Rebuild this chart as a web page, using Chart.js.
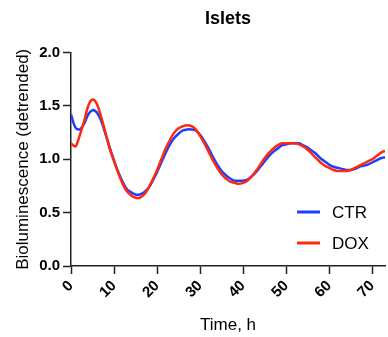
<!DOCTYPE html>
<html>
<head>
<meta charset="utf-8">
<script src="https://cdn.jsdelivr.net/npm/chart.js@4.4.1/dist/chart.umd.min.js"></script>
<style>
  html, body { margin: 0; padding: 0; background: #fff; }
  #wrap { width: 388px; height: 337px; position: relative; }
</style>
</head>
<body>
<div id="wrap"><canvas id="c" width="388" height="337"></canvas></div>
<script>
const chartTitle = "Islets";
const xTitle = "Time, h";
const yTitle = "Bioluminescence (detrended)";
const seriesNames = ["CTR", "DOX"];

const timeHours = [0,1,2,3,4,5,6,7,8,9,10,11,12,13,14,15,16,17,18,19,20,21,22,23,24,25,26,27,28,29,30,31,32,33,34,35,36,37,38,39,40,41,42,43,44,45,46,47,48,49,50,51,52,53,54,55,56,57,58,59,60,61,62,63,64,65,66,67,68,69,70,71,72,73];

const ctrValues = [1.42,1.30,1.28,1.33,1.42,1.46,1.44,1.36,1.24,1.11,0.99,0.88,0.79,0.72,0.69,0.67,0.67,0.69,0.73,0.80,0.88,0.97,1.06,1.14,1.20,1.24,1.27,1.28,1.28,1.27,1.23,1.17,1.10,1.02,0.95,0.89,0.85,0.82,0.80,0.80,0.80,0.81,0.84,0.88,0.93,0.98,1.03,1.07,1.10,1.13,1.14,1.15,1.15,1.15,1.13,1.11,1.08,1.05,1.01,0.98,0.95,0.93,0.92,0.91,0.90,0.90,0.91,0.93,0.94,0.95,0.97,0.99,1.01,1.02];

const doxValues = [1.15,1.12,1.22,1.35,1.50,1.56,1.52,1.40,1.25,1.10,0.98,0.87,0.77,0.70,0.66,0.64,0.64,0.67,0.73,0.81,0.90,1.00,1.10,1.18,1.25,1.29,1.31,1.32,1.31,1.28,1.22,1.15,1.07,0.99,0.92,0.86,0.82,0.79,0.78,0.77,0.78,0.80,0.84,0.89,0.95,1.01,1.06,1.10,1.13,1.15,1.15,1.15,1.15,1.14,1.12,1.09,1.05,1.01,0.97,0.94,0.92,0.90,0.89,0.89,0.89,0.90,0.92,0.94,0.96,0.98,1.00,1.03,1.06,1.08];

const xTickValues = [0,10,20,30,40,50,60,70];
const yTickValues = [0, 0.5, 1.0, 1.5, 2.0];
const yTickLabels = ["0.0","0.5","1.0","1.5","2.0"];

const FONT = "'Liberation Sans', Arial, Helvetica, sans-serif";
const AXIS = "#222222";

const insideLegend = {
  id: 'insideLegend',
  afterDatasetsDraw(chart) {
    const {ctx, chartArea} = chart;
    const ds = chart.data.datasets;
    ctx.save();
    ctx.font = "17px " + FONT;
    ctx.textBaseline = 'middle';
    ctx.textAlign = 'left';
    ds.forEach((d, i) => {
      const y = chartArea.bottom - 54 + i * 31;
      const x0 = chartArea.right - 88;
      ctx.strokeStyle = d.borderColor;
      ctx.lineWidth = 3;
      ctx.beginPath();
      ctx.moveTo(x0, y);
      ctx.lineTo(x0 + 23, y);
      ctx.stroke();
      ctx.fillStyle = '#000';
      ctx.fillText(d.label, x0 + 35, y + 1);
    });
    ctx.restore();
  }
};

new Chart(document.getElementById('c'), {
  type: 'line',
  data: {
    labels: timeHours,
    datasets: [
      { label: seriesNames[0], data: timeHours.map((t, i) => ({x: t, y: ctrValues[i]})),
        borderColor: '#1f3fff', borderWidth: 2.5, pointRadius: 0, tension: 0.35, fill: false, order: 1 },
      { label: seriesNames[1], data: timeHours.map((t, i) => ({x: t, y: doxValues[i]})),
        borderColor: '#ff2a0c', borderWidth: 2.5, pointRadius: 0, tension: 0.35, fill: false, order: 0 }
    ]
  },
  options: {
    responsive: false,
    animation: false,
    devicePixelRatio: 1,
    layout: { padding: { left: 0, right: 0, top: 0, bottom: 0 } },
    plugins: {
      legend: { display: false },
      tooltip: { enabled: false },
      title: {
        display: true, text: chartTitle, fullSize: false,
        color: '#000',
        font: { family: FONT, size: 18, weight: 'bold' },
        padding: { top: 8, bottom: 23 }
      }
    },
    scales: {
      x: {
        type: 'linear', min: 0, max: 73,
        afterFit(s) { s.height = 71; },
        afterBuildTicks(s) { s.ticks = xTickValues.map(v => ({value: v})); },
        border: { display: true, color: AXIS, width: 1.5 },
        grid: { display: true, drawOnChartArea: false, drawTicks: true, tickLength: 8, tickColor: AXIS, tickWidth: 1.5 },
        ticks: {
          autoSkip: false, minRotation: 45, maxRotation: 45, padding: 3,
          color: '#000', font: { family: FONT, size: 15, weight: 'bold' },
          callback: (v) => String(v)
        },
        title: { display: true, text: xTitle, color: '#000',
          font: { family: FONT, size: 17 }, padding: { top: 0, bottom: 1 } }
      },
      y: {
        type: 'linear', min: 0, max: 2,
        afterFit(s) { s.width = 71; },
        afterBuildTicks(s) { s.ticks = yTickValues.map(v => ({value: v})); },
        border: { display: true, color: AXIS, width: 1.5 },
        grid: { display: true, drawOnChartArea: false, drawTicks: true, tickLength: 8, tickColor: AXIS, tickWidth: 1.5 },
        ticks: {
          padding: 3, color: '#000', font: { family: FONT, size: 15, weight: 'bold' },
          callback: (v) => { const i = yTickValues.indexOf(v); return i >= 0 ? yTickLabels[i] : ''; }
        },
        title: { display: true, text: yTitle, color: '#000',
          font: { family: FONT, size: 17 }, padding: { top: 13, bottom: 0 } }
      }
    }
  },
  plugins: [insideLegend]
});
</script>
</body>
</html>
